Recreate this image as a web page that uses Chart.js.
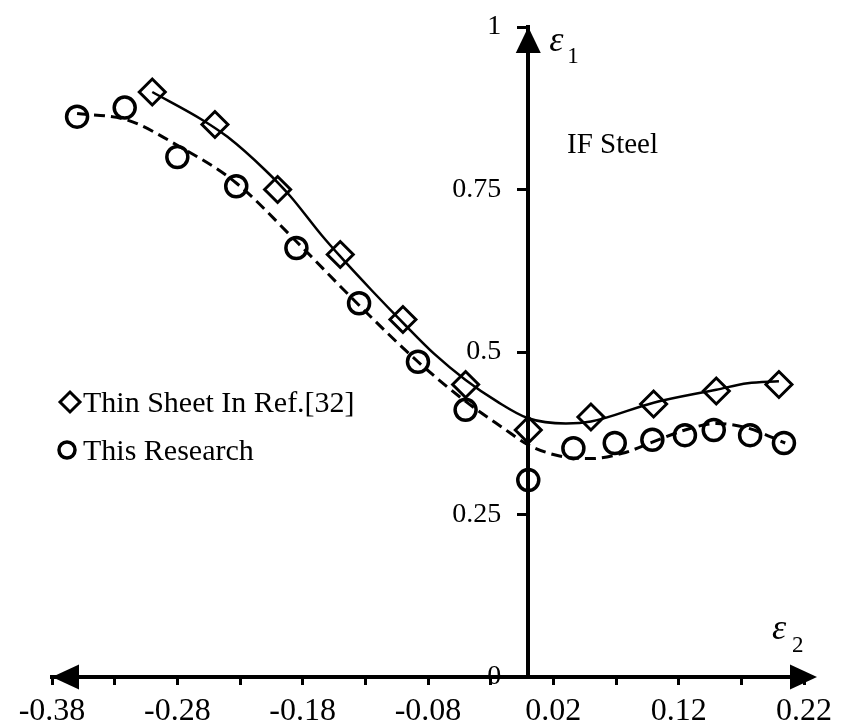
<!DOCTYPE html>
<html>
<head>
<meta charset="UTF-8">
<title>IF Steel FLD</title>
<script src="https://cdn.jsdelivr.net/npm/chart.js@4.4.0/dist/chart.umd.min.js"></script>
<style>
  body { margin: 0; background: #fff; }
  #holder { width: 842px; height: 726px; }
</style>
</head>
<body>
<div id="holder"><canvas id="fld" width="842" height="726"></canvas></div>
<script>
// ticks
var xTickValues = [-0.38, -0.33, -0.28, -0.23, -0.18, -0.13, -0.08, -0.03, 0.02, 0.07, 0.12, 0.17, 0.22];
var xTickLabels = ['-0.38', '', '-0.28', '', '-0.18', '', '-0.08', '', '0.02', '', '0.12', '', '0.22'];
var yTickValues = [0, 0.25, 0.5, 0.75, 1];
var yTickLabels = ['0', '0.25', '0.5', '0.75', '1'];

// Thin Sheet In Ref.[32] (diamonds)
var thinX = [-0.30, -0.25, -0.20, -0.15, -0.10, -0.05, 0.00, 0.05, 0.10, 0.15, 0.20];
var thinY = [0.90, 0.85, 0.75, 0.65, 0.55, 0.45, 0.38, 0.40, 0.42, 0.44, 0.45];

// This Research (circles)
var researchX = [-0.36, -0.322, -0.28, -0.233, -0.185, -0.135, -0.088, -0.05, 0.00, 0.036, 0.069, 0.099, 0.125, 0.148, 0.177, 0.204];
var researchY = [0.862, 0.876, 0.80, 0.755, 0.66, 0.575, 0.485, 0.411, 0.303, 0.352, 0.36, 0.365, 0.372, 0.38, 0.372, 0.36];

// trend curves
var thinCurveX = [-0.30, -0.26, -0.24, -0.21, -0.19, -0.165, -0.15, -0.125, -0.10, -0.075, -0.05, -0.025, 0.00, 0.03, 0.05, 0.10, 0.15, 0.175, 0.20];
var thinCurveY = [0.90, 0.857, 0.831, 0.78, 0.74, 0.68, 0.647, 0.595, 0.545, 0.497, 0.457, 0.424, 0.398, 0.39, 0.393, 0.422, 0.442, 0.452, 0.455];
var researchCurveX = [-0.36, -0.32, -0.28, -0.233, -0.185, -0.135, -0.088, -0.05, -0.02, 0.00, 0.025, 0.05, 0.075, 0.10, 0.125, 0.15, 0.175, 0.205];
var researchCurveY = [0.867, 0.857, 0.818, 0.76, 0.67, 0.572, 0.485, 0.424, 0.383, 0.357, 0.34, 0.336, 0.344, 0.362, 0.38, 0.39, 0.383, 0.36];

function pts(xs, ys) {
  return xs.map(function (x, i) { return {x: x, y: ys[i]}; });
}

var serif = '"Liberation Serif", "Times New Roman", serif';

// arrows, y tick labels, axis symbols, note and legend
var decorations = {
  id: 'decorations',
  afterDraw: function (chart) {
    var ctx = chart.ctx;
    var xs = chart.scales.x, ys = chart.scales.y;
    var x0 = xs.getPixelForValue(0), y0 = ys.getPixelForValue(0);
    var left = xs.getPixelForValue(xs.min), right = xs.getPixelForValue(xs.max);
    var top = ys.getPixelForValue(ys.max);
    ctx.save();
    ctx.fillStyle = '#000';
    ctx.strokeStyle = '#000';

    ctx.beginPath();
    ctx.moveTo(left, y0); ctx.lineTo(left + 27, y0 - 12.5); ctx.lineTo(left + 27, y0 + 12.5);
    ctx.closePath(); ctx.fill();
    ctx.beginPath();
    ctx.moveTo(right + 13, y0); ctx.lineTo(right - 14, y0 - 12.5); ctx.lineTo(right - 14, y0 + 12.5);
    ctx.closePath(); ctx.fill();
    ctx.beginPath();
    ctx.moveTo(x0, top); ctx.lineTo(x0 - 12.5, top + 26); ctx.lineTo(x0 + 12.5, top + 26);
    ctx.closePath(); ctx.fill();

    // y tick labels sit left of the axis through the origin
    ctx.font = '28px ' + serif;
    ctx.textAlign = 'right';
    ctx.textBaseline = 'middle';
    yTickValues.forEach(function (v, i) {
      ctx.fillText(yTickLabels[i], x0 - 27, ys.getPixelForValue(v));
    });

    ctx.textAlign = 'left';
    ctx.textBaseline = 'alphabetic';
    ctx.font = 'italic 36px ' + serif;
    ctx.fillText('\u03b5', x0 + 21, top + 24);
    ctx.fillText('\u03b5', right - 32, y0 - 38);
    ctx.font = '23px ' + serif;
    ctx.fillText('1', x0 + 39, top + 36);
    ctx.fillText('2', right - 12, y0 - 25);

    ctx.font = '29px ' + serif;
    ctx.fillText('IF Steel', 567, 153);

    // legend
    var thin = chart.data.datasets[0], res = chart.data.datasets[1];
    ctx.lineWidth = 3;
    ctx.beginPath();
    ctx.moveTo(60, 402); ctx.lineTo(70, 392); ctx.lineTo(80, 402); ctx.lineTo(70, 412);
    ctx.closePath(); ctx.stroke();
    ctx.lineWidth = 3.5;
    ctx.beginPath();
    ctx.arc(67, 450, 8, 0, Math.PI * 2);
    ctx.stroke();
    ctx.font = '30px ' + serif;
    ctx.fillText(thin.label, 83, 412);
    ctx.fillText(res.label, 83, 460);
    ctx.restore();
  }
};

var chart = new Chart(document.getElementById('fld').getContext('2d'), {
  type: 'scatter',
  data: {
    datasets: [{
      label: 'Thin Sheet In Ref.[32]',
      data: pts(thinX, thinY),
      pointStyle: 'rectRot',
      pointRadius: 13,
      pointBorderWidth: 3,
      pointBorderColor: '#000',
      pointBackgroundColor: 'rgba(0,0,0,0)'
    }, {
      label: 'This Research',
      data: pts(researchX, researchY),
      pointStyle: 'circle',
      pointRadius: 10.5,
      pointBorderWidth: 3.5,
      pointBorderColor: '#000',
      pointBackgroundColor: 'rgba(0,0,0,0)'
    }, {
      label: 'thin curve',
      data: pts(thinCurveX, thinCurveY),
      showLine: true,
      pointRadius: 0,
      borderColor: '#000',
      borderWidth: 2.5,
      cubicInterpolationMode: 'monotone'
    }, {
      label: 'research curve',
      data: pts(researchCurveX, researchCurveY),
      showLine: true,
      pointRadius: 0,
      borderColor: '#000',
      borderWidth: 3,
      borderDash: [11, 6],
      cubicInterpolationMode: 'monotone'
    }]
  },
  options: {
    responsive: false,
    animation: false,
    layout: { padding: { left: 52, right: 38, top: 27, bottom: 0 } },
    plugins: { legend: { display: false }, tooltip: { enabled: false } },
    scales: {
      x: {
        type: 'linear',
        position: 'bottom',
        min: -0.38,
        max: 0.22,
        afterBuildTicks: function (s) { s.ticks = xTickValues.map(function (v) { return {value: v}; }); },
        afterFit: function (s) { s.height = 49; },
        ticks: {
          autoSkip: false,
          maxRotation: 0,
          padding: 7,
          color: '#000',
          font: { family: serif, size: 32 },
          callback: function (v, i) { return xTickLabels[i]; }
        },
        grid: { drawOnChartArea: false, drawTicks: true, tickLength: 8, tickWidth: 3, tickColor: '#000' },
        border: { display: true, color: '#000', width: 4 }
      },
      y: {
        type: 'linear',
        position: { x: 0 },
        min: 0,
        max: 1,
        afterBuildTicks: function (s) { s.ticks = yTickValues.map(function (v) { return {value: v}; }); },
        ticks: { display: false, padding: 0 },
        grid: { drawOnChartArea: false, drawTicks: true, tickLength: 9, tickWidth: 3, tickColor: '#000' },
        border: { display: true, color: '#000', width: 4 }
      }
    }
  },
  plugins: [decorations]
});
</script>
</body>
</html>
